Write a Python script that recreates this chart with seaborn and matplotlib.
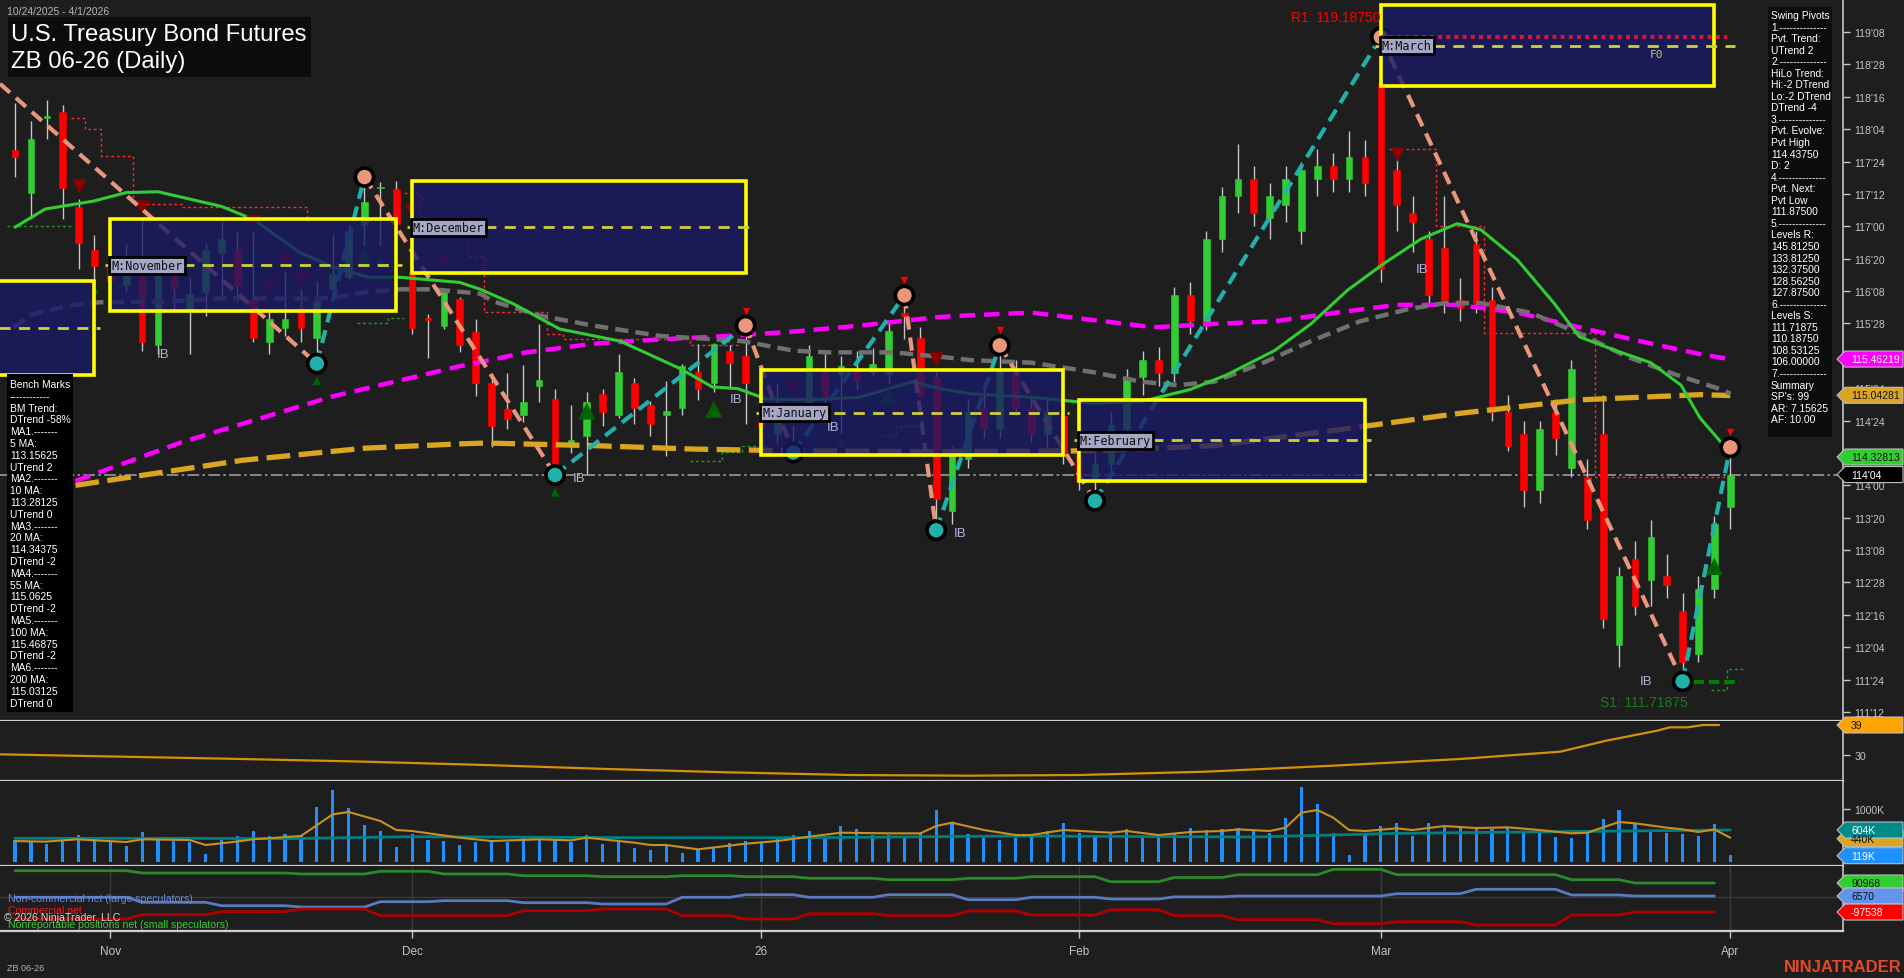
import numpy as np
import pandas as pd
import matplotlib
matplotlib.use("Agg")
import matplotlib.pyplot as plt
from matplotlib.patches import Rectangle, Polygon
from matplotlib.ticker import FixedLocator, FuncFormatter
import seaborn as sns

W, H = 1904, 979
BG = "#1e1e1e"
AXC = "#c4c4c4"

sns.set_theme(style="dark", rc={"axes.facecolor": BG, "figure.facecolor": BG})
plt.rcParams["font.family"] = ["Liberation Sans", "DejaVu Sans"]

# ---------------- data (bar index 0 = 10/24/2025 ... 108 = 4/1/2026) ----------------
opens = [117.88, 117.38, 118.25, 118.32, 117.22, 116.73, 116.54, 116.32, 116.62, 115.62,
         116.54, 116.02, 116.24, 116.69, 116.72, 116.16, 115.66, 115.82, 116.06, 115.71,
         116.27, 116.41, 117.01, 117.44, 117.43, 116.47, 115.93, 115.85, 116.16, 115.78,
         115.19, 114.88, 114.81, 115.15, 115.00, 114.46, 114.57, 115.06, 114.81, 115.19,
         114.93, 114.81, 114.90, 115.31, 115.19, 115.56, 115.50, 114.75, 114.60, 114.48,
         114.90, 115.31, 115.29, 115.34, 115.31, 115.29, 116.00, 115.71, 115.25, 113.70,
         114.30, 114.90, 114.65, 115.30, 114.90, 114.60, 114.80, 114.35, 114.05, 114.25,
         114.65, 115.25, 115.45, 115.30, 116.20, 115.90, 116.85, 117.35, 117.55, 117.10,
         117.25, 116.95, 117.55, 117.70, 117.55, 117.80, 118.65, 117.65, 117.15, 116.85,
         116.75, 116.15, 116.80, 116.15, 114.85, 114.60, 113.95, 114.85, 114.20, 114.10,
         114.60, 112.15, 113.15, 112.90, 112.95, 112.55, 112.05, 112.80, 113.75]
highs = [118.43, 118.22, 118.46, 118.41, 117.32, 116.90, 116.62, 116.80, 117.08, 116.66,
         116.66, 116.41, 116.81, 117.06, 116.93, 116.93, 116.01, 116.47, 116.27, 116.37,
         116.90, 117.01, 117.57, 117.51, 117.52, 116.58, 115.98, 116.27, 116.18, 115.93,
         115.29, 115.30, 115.39, 115.87, 115.12, 114.93, 115.08, 115.12, 115.52, 115.24,
         114.98, 115.21, 115.40, 115.64, 115.65, 115.62, 115.85, 114.81, 115.19, 114.69,
         115.62, 115.52, 115.50, 115.56, 115.59, 115.89, 116.20, 115.83, 115.31, 114.45,
         115.00, 115.20, 115.62, 115.45, 115.05, 115.00, 114.95, 114.55, 114.40, 114.85,
         115.35, 115.55, 115.60, 116.30, 116.35, 116.95, 117.45, 117.95, 117.70, 117.50,
         117.70, 117.75, 117.90, 117.85, 118.10, 118.00, 119.19, 117.85, 117.35, 116.95,
         117.35, 116.40, 116.95, 116.30, 115.05, 114.75, 114.75, 115.00, 115.45, 114.30,
         115.05, 113.05, 113.35, 113.60, 113.20, 112.75, 112.95, 113.65, 114.44]
lows = [117.57, 117.08, 118.01, 117.08, 116.50, 116.24, 116.20, 116.24, 115.56, 115.52,
        116.04, 115.52, 115.96, 116.16, 116.12, 115.66, 115.52, 115.73, 115.66, 115.41,
        116.22, 116.39, 116.78, 116.78, 116.97, 115.75, 115.48, 115.81, 115.54, 115.03,
        114.44, 114.65, 114.73, 114.97, 114.12, 114.38, 114.13, 114.69, 114.78, 114.71,
        114.57, 114.34, 114.81, 114.99, 115.08, 115.12, 114.71, 114.65, 114.48, 114.38,
        114.77, 114.73, 114.61, 115.12, 115.27, 115.19, 115.69, 115.02, 113.48, 113.55,
        114.20, 114.55, 114.55, 114.80, 114.50, 114.40, 114.25, 113.95, 113.82, 114.15,
        114.55, 115.05, 115.15, 115.20, 115.75, 115.80, 116.70, 117.15, 117.00, 116.85,
        117.05, 116.80, 117.35, 117.40, 117.40, 117.35, 116.35, 116.95, 116.70, 116.10,
        116.00, 115.90, 116.00, 114.75, 114.40, 113.75, 113.80, 114.35, 114.10, 113.50,
        112.35, 111.90, 112.50, 112.60, 112.70, 111.73, 111.95, 112.70, 113.50]
closes = [117.80, 118.01, 118.28, 117.44, 116.81, 116.54, 116.37, 116.55, 115.66, 116.43,
          116.27, 116.22, 116.72, 116.85, 116.31, 115.71, 115.93, 115.93, 115.82, 116.13,
          116.45, 116.95, 117.28, 117.46, 117.03, 115.82, 115.92, 116.24, 115.62, 115.19,
          114.69, 114.77, 114.97, 115.22, 114.25, 114.52, 114.97, 114.85, 115.31, 114.90,
          114.71, 114.86, 115.38, 115.12, 115.64, 115.42, 115.19, 114.67, 114.75, 114.42,
          115.50, 115.00, 115.38, 115.21, 115.40, 115.79, 115.96, 115.04, 113.84, 114.35,
          114.85, 114.65, 115.35, 114.90, 114.60, 114.85, 114.35, 114.05, 114.25, 114.70,
          115.25, 115.45, 115.30, 116.20, 115.90, 116.85, 117.35, 117.55, 117.15, 117.35,
          117.55, 117.65, 117.70, 117.55, 117.80, 117.50, 116.50, 117.25, 117.05, 116.20,
          116.15, 116.05, 116.10, 114.85, 114.45, 113.95, 114.65, 114.55, 115.35, 113.60,
          112.45, 112.95, 112.60, 113.40, 112.85, 111.95, 112.80, 113.55, 114.125]
volume_k = [409, 384, 333, 409, 503, 440, 396, 296, 566, 415,
            396, 377, 145, 409, 484, 579, 491, 522, 491, 1032,
            1352, 1013, 692, 579, 277, 522, 409, 390, 314, 377,
            377, 377, 465, 428, 428, 377, 503, 333, 377, 258,
            220, 321, 164, 226, 258, 352, 390, 371, 459, 503,
            579, 472, 673, 616, 503, 503, 484, 547, 975, 742,
            522, 478, 409, 447, 478, 579, 730, 541, 503, 535,
            629, 447, 447, 528, 635, 598, 616, 648, 579, 541,
            824, 1409, 1088, 541, 126, 522, 673, 730, 484, 730,
            692, 660, 641, 629, 648, 579, 560, 465, 447, 598,
            805, 975, 711, 598, 541, 522, 484, 711, 126]

month_idx = [6, 25, 47, 67, 86, 108]
month_lbl = ["Nov", "Dec", "26", "Feb", "Mar", "Apr"]

# moving averages (bar index, price)
ma20_idx = [0, 1.9, 4.9, 7, 9, 13, 15, 17.9, 20, 22.2, 24.2, 28, 29.3, 31.4, 34.3, 38.1, 41.9, 43.9, 45.5, 47.3,
            49.9, 53.2, 56.5, 58.2, 60.2, 64, 67.9, 70.9, 74, 76.3, 79.3, 81.6, 83.9, 86.2, 88.5, 90.8, 92.3,
            94.6, 96.9, 98.5, 100.8, 103, 104.9, 106.1, 107.6, 108]
ma20_val = [116.99, 117.20, 117.29, 117.39, 117.40, 117.23, 117.08, 116.70, 116.53, 116.41, 116.41, 116.35,
            116.27, 116.10, 115.81, 115.67, 115.35, 115.14, 115.12, 115.00, 114.99, 115.02, 115.20, 115.12,
            115.06, 115.02, 114.95, 114.97, 115.11, 115.28, 115.56, 115.87, 116.26, 116.57, 116.85, 117.03,
            116.96, 116.61, 116.11, 115.72, 115.56, 115.42, 115.16, 114.78, 114.46, 114.33]
ma55_idx = [-0.1, 1.1, 3.3, 5.3, 9.6, 13.7, 17.9, 20, 22.2, 24.2, 26.3, 29.3, 30.1, 33.2, 36.4, 40.6, 45.8, 49,
            51.1, 55.3, 58.2, 60.2, 64, 67.9, 70.9, 73.2, 75.5, 78.6, 81.6, 84.7, 87.7, 90, 92.3, 95.4, 98.5,
            101.5, 104.6, 107.6, 108]
ma55_val = [115.83, 115.98, 116.08, 116.12, 116.13, 116.17, 116.16, 116.17, 116.24, 116.27, 116.27, 116.22,
            116.13, 115.96, 115.85, 115.73, 115.67, 115.56, 115.54, 115.54, 115.49, 115.45, 115.42, 115.31,
            115.20, 115.16, 115.20, 115.42, 115.67, 115.90, 116.04, 116.11, 116.11, 116.00, 115.76, 115.49,
            115.28, 115.10, 115.06]
ma100_idx = [3.8, 10.5, 20, 28, 29.1, 32.2, 36.4, 40.6, 44.8, 49, 53.2, 58.2, 60.2, 64, 66.3, 71.7, 75.5, 79.3,
             83.2, 87, 90.8, 94.6, 98.5, 102.3, 106.1, 108]
ma100_val = [114.05, 114.50, 115.03, 115.38, 115.42, 115.54, 115.64, 115.69, 115.73, 115.78, 115.85, 115.95,
             115.97, 116.00, 115.95, 115.83, 115.87, 115.90, 116.00, 116.09, 116.09, 116.00, 115.83, 115.67,
             115.52, 115.46]
ma200_idx = [3.8, 14.3, 22, 28, 29.6, 36.4, 42.7, 49, 58.2, 67.9, 75.5, 83.2, 90.8, 98.5, 106.1, 108]
ma200_val = [114.00, 114.29, 114.43, 114.48, 114.49, 114.46, 114.42, 114.40, 114.39, 114.40, 114.46, 114.64,
             114.83, 114.99, 115.05, 115.04]

# swing pivots
piv_idx = [19, 22, 34, 46, 49, 56, 58, 62, 68, 86, 105, 108]
piv_val = [115.41, 117.57, 114.12, 115.85, 114.38, 116.20, 113.48, 115.62, 113.82, 119.19, 111.73, 114.44]
piv_high = [False, True, False, True, False, True, False, True, False, True, False, True]
swing_start = (-0.95, 118.65)

# monthly boxes
box_name = ["", "M:November", "M:December", "M:January", "M:February", "M:March"]
box_start = [-26, 6, 25, 47, 67, 86]
box_end = [5, 24, 46, 66, 85, 107]
box_top = [116.37, 117.08, 117.52, 115.34, 114.99, 119.56]
box_bot = [115.28, 116.02, 116.46, 114.35, 114.05, 118.625]
box_mid = [115.82, 116.55, 116.99, 114.84, 114.52, 119.09]

# signal markers
dn_idx = [4, 8, 15, 16, 17, 18, 25, 27, 49, 58, 87]
dn_val = [117.47, 117.22, 117.05, 116.33, 116.60, 116.39, 117.18, 116.60, 115.15, 115.46, 117.84]
up_idx = [5, 19, 22, 23, 34, 36, 44, 50, 52, 54, 55, 107]
up_val = [116.27, 115.21, 116.64, 116.60, 113.92, 114.86, 114.88, 114.62, 114.51, 114.85, 115.03, 113.06]
up_big = [False, False, True, False, False, True, True, False, False, False, True, True]
tip_idx = [46, 56, 62, 108]
tip_val = [116.02, 116.38, 115.80, 114.62]
ib_idx = [8.9, 35.1, 45.0, 51.1, 59.1, 88.2, 102.3]
ib_val = [115.52, 114.09, 115.00, 114.68, 113.45, 116.51, 111.73]

# trailing stop steps
rstops = [([3.5, 4.4, 5.4, 7.4, 10.5, 18.4], [118.25, 118.13, 117.81, 117.26, 117.22, 117.10]),
          ([24.5, 25.5, 28.5, 29.5, 33.5, 34.5, 42.5, 45.5], [117.39, 117.08, 116.66, 116.01, 115.75, 115.69, 115.62, 115.62]),
          ([86.5, 89.5, 92.5, 99.5, 108.3], [117.90, 117.00, 115.76, 114.10, 114.10])]
gstops = [([-0.5, 3.5], [117.00, 117.00]),
          ([21.5, 23.5, 24.5], [115.88, 115.94, 115.94]),
          ([42.5, 44.5, 45.8, 47.3], [114.28, 114.39, 114.46, 114.46]),
          ([54.5, 55.5, 57.7], [114.57, 114.69, 114.69]),
          ([106.8, 107.8, 108.8], [111.63, 111.87, 111.87])]

# trend strength panel
adx_idx = [-0.9, 6.7, 14.3, 22, 29.6, 37.3, 44.9, 52.6, 60, 67, 75, 83, 91, 97.3, 100.2, 103.4, 104.2, 105.3, 106.3, 107.3]
adx_val = [30.2, 29.5, 28.8, 28.0, 27.0, 25.8, 24.8, 24.0, 23.8, 24.0, 25.0, 26.8, 28.8, 31.0, 34.3, 37.3, 38.3, 38.3, 39.0, 39.0]

# volume averages (K)
vma_idx = [0, 1.9, 3.9, 7, 8, 11, 12, 13.9, 15, 18, 20, 21, 23, 24, 25, 28, 30, 33, 35, 36, 39, 40, 41, 43, 46,
           48, 50, 52, 55, 57, 58, 59, 61, 63, 64, 66, 69, 70, 72, 74, 76, 77, 79, 80, 81, 82, 83, 84, 85, 87,
           88, 90, 92, 94, 96, 98, 99, 101, 102, 104, 105, 106, 107, 108]
vma_val = [396, 384, 428, 377, 428, 415, 321, 384, 428, 491, 899, 944, 774, 604, 585, 459, 396, 428, 409, 459,
           365, 321, 321, 239, 346, 396, 478, 553, 541, 541, 679, 742, 604, 509, 509, 604, 553, 585, 509, 566,
           585, 616, 585, 648, 931, 981, 837, 604, 585, 635, 604, 679, 641, 654, 604, 541, 553, 755, 730, 648,
           616, 566, 616, 459]
vlong_idx = [0, 11, 17, 25, 39, 50, 63, 78, 87, 97, 108]
vlong_val = [447, 447, 440, 478, 459, 459, 491, 472, 541, 572, 604]

# COT weekly net positions (thousands)
cot_start = [0, 7, 12, 17, 22, 26, 31, 36, 41, 45, 49, 54, 59, 63, 68, 72, 76, 82, 86, 91, 97, 101]
cot_end = 107
cot_small = [170.9, 155.9, 155.9, 149.4, 167.0, 149.4, 138.4, 131.9, 138.4, 131.9, 121.5, 112.4, 121.5, 131.9,
             99.4, 127.0, 144.9, 179.6, 144.9, 144.9, 112.4, 91.0]
cot_large = [-1.9, -34.4, -56.5, -64.9, -30.4, -23.9, -36.9, -45.4, -1.9, 15.0, -1.9, 15.0, -17.5, -1.9, -13.0,
             1.0, 6.6, 6.6, 21.5, 50.1, 13.1, 6.6]
cot_comm = [-142.8, -114.9, -95.4, -77.9, -121.4, -121.4, -88.9, -77.9, -121.4, -142.8, -108.4, -121.4, -90.8,
            -116.8, -82.4, -121.4, -147.3, -173.3, -160.3, -181.8, -116.8, -97.5]

swing_lines = ["Swing Pivots", "1.--------------", "Pvt. Trend:", "UTrend 2", "2.--------------", "HiLo Trend:",
               "Hi:-2 DTrend", "Lo:-2 DTrend", "DTrend -4", "3.--------------", "Pvt. Evolve:", "Pvt High",
               "114.43750", "D: 2", "4.--------------", "Pvt. Next:", "Pvt Low", "111.87500", "5.--------------",
               "Levels R:", "145.81250", "133.81250", "132.37500", "128.56250", "127.87500", "6.--------------",
               "Levels S:", "111.71875", "110.18750", "108.53125", "106.00000", "7.--------------", "Summary",
               "SP's: 99", "AR: 7.15625", "AF: 10.00"]
bench_lines = ["Bench Marks", "------------", "BM Trend:", "DTrend -58%", "MA1.-------", "5 MA:", "113.15625",
               "UTrend 2", "MA2.-------", "10 MA:", "113.28125", "UTrend 0", "MA3.-------", "20 MA:", "114.34375",
               "DTrend -2", "MA4.-------", "55 MA:", "115.0625", "DTrend -2", "MA5.-------", "100 MA:",
               "115.46875", "DTrend -2", "MA6.-------", "200 MA:", "115.03125", "DTrend 0"]

# ---------------- figure ----------------
fig = plt.figure(figsize=(W / 100, H / 100), dpi=100)


def px_axes(left, top, right, bottom, **kw):
    return fig.add_axes([left / W, 1 - bottom / H, (right - left) / W, (bottom - top) / H], **kw)


ax_p = px_axes(0, 0, 1843, 722)
ax_a = px_axes(0, 722, 1843, 782, sharex=ax_p)
ax_v = px_axes(0, 782, 1843, 867, sharex=ax_p)
ax_c = px_axes(0, 867, 1843, 932, sharex=ax_p)

for ax in (ax_p, ax_a, ax_v, ax_c):
    ax.set_facecolor(BG)
    ax.grid(False)
    for s in ("top", "left"):
        ax.spines[s].set_visible(False)
    ax.spines["right"].set_color(AXC)
    ax.spines["right"].set_linewidth(1.2)
    ax.spines["bottom"].set_color("#d0d0d0")
    ax.spines["bottom"].set_linewidth(1.6)
    ax.yaxis.tick_right()
    ax.tick_params(axis="y", colors=AXC, labelsize=7.6, length=5, width=1, direction="out", pad=3, right=True, left=False)
    ax.tick_params(axis="x", bottom=False, labelbottom=False)
    ax.set_xlabel("")
    ax.set_ylabel("")

ax_p.set_xlim(-0.95, 115.1)
ax_p.set_ylim(111.271, 119.632)

# price ticks in 32nds (labels hidden where the value flags sit)
pticks = np.arange(111.375, 119.3, 0.375)
hidden = (115.5, 114.375)


def fmt32(v, _):
    if any(abs(v - hv) < 1e-6 for hv in hidden):
        return ""
    return f"{int(v)}'{int(round((v - int(v)) * 32)):02d}"


ax_p.yaxis.set_major_locator(FixedLocator(pticks))
ax_p.yaxis.set_major_formatter(FuncFormatter(fmt32))

x = np.arange(len(opens))
o, h, l, c = (np.array(a) for a in (opens, highs, lows, closes))

# current price line
ax_p.axhline(closes[-1], color="#9a9a9a", lw=1.2, ls=(0, (7, 2, 1.5, 2)), zorder=2)

# trailing stops
for xs, ys in rstops:
    ax_p.step(xs, ys, where="post", color="#ff2a2a", lw=1, ls=(0, (2, 2)), zorder=2.5)
for xs, ys in gstops:
    ax_p.step(xs, ys, where="post", color="#1e9e1e", lw=1, ls=(0, (2, 2)), zorder=2.5)

# candles
ax_p.vlines(x, l, h, color="#c4c4c4", lw=1, zorder=3)
lo_b = np.minimum(o, c)
hb = np.maximum(np.abs(c - o), 0.015)
up = c >= o
ax_p.bar(x[up], hb[up], bottom=lo_b[up], width=0.42, color="#32cd32", edgecolor="#32cd32", lw=0.4, zorder=3.5)
ax_p.bar(x[~up], hb[~up], bottom=lo_b[~up], width=0.42, color="#ff0000", edgecolor="#ff0000", lw=0.4, zorder=3.5)

# moving averages
sns.lineplot(x=ma200_idx, y=ma200_val, ax=ax_p, color="#daa520", lw=3.8, linestyle=(0, (4.5, 1.6)),
             sort=False, estimator=None, zorder=4)
sns.lineplot(x=ma100_idx, y=ma100_val, ax=ax_p, color="#ff00ff", lw=3.2, linestyle=(0, (3.5, 2)),
             sort=False, estimator=None, zorder=4)
sns.lineplot(x=ma55_idx, y=ma55_val, ax=ax_p, color="#707070", lw=3.2, linestyle=(0, (3, 1.6)),
             sort=False, estimator=None, zorder=4)
sns.lineplot(x=ma20_idx, y=ma20_val, ax=ax_p, color="#32cd32", lw=2.2, sort=False, estimator=None, zorder=4)

# swing lines
sx = [swing_start[0]] + piv_idx
sy = [swing_start[1]] + piv_val
for k in range(len(sx) - 1):
    col = "#20b2aa" if sy[k + 1] > sy[k] else "#e9967a"
    ax_p.plot(sx[k:k + 2], sy[k:k + 2], color=col, lw=3, ls=(0, (3.2, 1.9)), zorder=6)

# S1 / R1 levels
ax_p.plot([104.7, 108.6], [111.72, 111.72], color="#008000", lw=3, ls=(0, (2.5, 1.2)), zorder=6)
ax_p.plot([86, 107.8], [119.1875, 119.1875], color="#dc143c", lw=2.8, ls=(0, (1, 1.1)), zorder=9.5)

# markers
ax_p.scatter(dn_idx, dn_val, marker="v", s=110, color="#8b0000", zorder=5, lw=0)
ax_p.scatter(up_idx, up_val, marker="^", s=[150 if b else 40 for b in up_big], color="#006400", zorder=5, lw=0)
ax_p.scatter(tip_idx, tip_val, marker="v", s=28, color="#ff0000", zorder=5, lw=0)
ax_p.scatter(piv_idx, piv_val, s=170, c=["#e9967a" if hh else "#20b2aa" for hh in piv_high],
             edgecolors="black", linewidths=2.6, zorder=7)
for xi, yi in zip(ib_idx, ib_val):
    ax_p.text(xi, yi, "IB", color="#b0b4d8", fontsize=9.5, ha="left", va="center", zorder=10)

# monthly boxes
for nm, s0, s1, tp, bt, md in zip(box_name, box_start, box_end, box_top, box_bot, box_mid):
    ax_p.add_patch(Rectangle((s0, bt), s1 - s0, tp - bt, fc="#191966", ec="none", alpha=0.8, zorder=8))
    ax_p.add_patch(Rectangle((s0, bt), s1 - s0, tp - bt, fill=False, ec="#ffff00", lw=2.6, zorder=9))
    end = 108.3 if nm == "M:March" else s1 + 0.35
    ax_p.plot([s0 - 0.35, end], [md, md], color="#cfcf3a", lw=2, ls=(0, (4, 3)), zorder=9)
    if nm:
        ax_p.text(s0 + 0.05, md, nm, fontfamily="DejaVu Sans Mono", fontsize=8.5, color="#111111",
                  ha="left", va="center", zorder=12,
                  bbox=dict(boxstyle="square,pad=0.18", fc="#a6a6c6", ec="black", lw=2))

ax_p.text(86.0, 119.42, "R1: 119.18750", color="#ff0000", fontsize=10, ha="right", va="center", zorder=12)
ax_p.text(105.3, 111.49, "S1: 111.71875", color="#1c7a1c", fontsize=10, ha="right", va="center", zorder=12)
ax_p.text(102.9, 119.0, "F0", color="#c8c850", fontsize=8, fontfamily="DejaVu Sans Mono", va="center", zorder=12)

# ---- trend strength panel ----
ax_a.set_ylim(22.2, 40.2)
sns.lineplot(x=adx_idx, y=adx_val, ax=ax_a, color="#d4900a", lw=1.6, sort=False, estimator=None)
ax_a.yaxis.set_major_locator(FixedLocator([30]))
ax_a.yaxis.set_major_formatter(FuncFormatter(lambda v, _: f"{v:.0f}"))

# ---- volume panel ----
ax_v.set_ylim(-75, 1528)
ax_v.bar(x, volume_k, width=0.2, color="#1e90ff", edgecolor="none", lw=0, zorder=3)
sns.lineplot(x=vlong_idx, y=vlong_val, ax=ax_v, color="#008080", lw=2, sort=False, estimator=None, zorder=4)
sns.lineplot(x=vma_idx, y=vma_val, ax=ax_v, color="#c8901e", lw=1.5, sort=False, estimator=None, zorder=5)
ax_v.yaxis.set_major_locator(FixedLocator([1000]))
ax_v.yaxis.set_major_formatter(FuncFormatter(lambda v, _: f"{v:.0f}K"))

# ---- COT panel ----
ax_c.set_ylim(-220.7, 201.4)
ax_c.set_yticks([])
ax_c.axhline(0, color="#3a3a3a", lw=1, zorder=1)
for mi in month_idx:
    ax_c.axvline(mi, color="#3a3a3a", lw=1, zorder=1)
ends = cot_start[1:] + [cot_end]
for vals, col in ((cot_small, "#2a8a2a"), (cot_large, "#5b79bd"), (cot_comm, "#b00000")):
    xs, ys = [], []
    for s0, e0, v in zip(cot_start, ends, vals):
        xs += [s0 + (1 if s0 else 0), e0]
        ys += [v, v]
    sns.lineplot(x=xs, y=ys, ax=ax_c, color=col, lw=2, sort=False, estimator=None, zorder=3)
ax_c.set_xticks(month_idx)
ax_c.set_xticklabels(month_lbl)
ax_c.tick_params(axis="x", bottom=True, labelbottom=True, colors=AXC, length=5, width=1, labelsize=8.5, pad=5)


# ---------------- overlays in pixel space ----------------
def fxy(px, py):
    return (px / W, 1 - py / H)


def ypix(ax, v):
    return H - ax.transData.transform((0, v))[1]


def flag(y, text, fc, tc):
    pts = [fxy(1837, y), fxy(1845, y - 8), fxy(1903, y - 8), fxy(1903, y + 8), fxy(1845, y + 8)]
    fig.add_artist(Polygon(pts, closed=True, fc=fc, ec="#bdbdbd", lw=0.8, transform=fig.transFigure, zorder=5))
    fig.text(*fxy(1851, y), text, color=tc, fontsize=7.5, va="center", ha="left", zorder=6)


flag(ypix(ax_p, 115.46219), "115.46219", "#ff00ff", "white")
flag(ypix(ax_p, 115.04281), "115.04281", "#daa520", "#111111")
flag(ypix(ax_p, 114.32813), "114.32813", "#32cd32", "#111111")
flag(ypix(ax_p, closes[-1]), "114'04", "#000000", "white")
flag(ypix(ax_a, 39), "39", "#ffa500", "#111111")
flag(ypix(ax_v, 440), "440K", "#daa520", "#111111")
flag(ypix(ax_v, 604), "604K", "#008b8b", "white")
flag(ypix(ax_v, 119), "119K", "#1e90ff", "white")
flag(ypix(ax_c, 90.968), "90968", "#32cd32", "#111111")
flag(ypix(ax_c, 6.570), "6570", "#6495ed", "#111111")
flag(ypix(ax_c, -97.538), "-97538", "#ff0000", "white")

# title
fig.text(*fxy(7, 12), "10/24/2025 - 4/1/2026", color="#b4b4b4", fontsize=7.5, va="center")
fig.add_artist(Rectangle(fxy(8, 78), 303 / W, 60 / H, transform=fig.transFigure, fc="#0c0c0c", ec="none", zorder=3))
fig.text(*fxy(11, 35), "U.S. Treasury Bond Futures", color="white", fontsize=17.2, va="center", zorder=4)
fig.text(*fxy(11, 62), "ZB 06-26 (Daily)", color="white", fontsize=17.2, va="center", zorder=4)

# swing pivots box
fig.add_artist(Rectangle(fxy(1768, 438), 64 / W, 430 / H, transform=fig.transFigure, fc="#0c0c0c", ec="none", zorder=3))
for k, t in enumerate(swing_lines):
    fig.text(*fxy(1771, 16 + k * 11.55), t, color="white", fontsize=7.4, va="center", zorder=4)

# bench marks box
fig.add_artist(Rectangle(fxy(7, 713), 66 / W, 338 / H, transform=fig.transFigure, fc="#000000", ec="none", zorder=3))
for k, t in enumerate(bench_lines):
    fig.text(*fxy(10, 385 + k * 11.8), t, color="white", fontsize=7.4, va="center", zorder=4)

# COT legend
fig.text(*fxy(8, 899), "Non-commercial net (large speculators)", color="#6a8ad6", fontsize=7.6, va="center", zorder=4)
fig.text(*fxy(8, 911), "Commercial net", color="#ff1a1a", fontsize=7.6, va="center", zorder=4)
fig.text(*fxy(4, 918), "\u00a9 2026 NinjaTrader, LLC", color="#d6d6d6", fontsize=7.6, va="center", zorder=5)
fig.text(*fxy(8, 925), "Nonreportable positions net (small speculators)", color="#32cd32", fontsize=7.6, va="center", zorder=4)

fig.text(*fxy(7, 969), "ZB 06-26", color="#b4b4b4", fontsize=6.5, va="center")
fig.text(*fxy(1902, 968), "NINJATRADER", color="#e44a2a", fontsize=12, fontweight="bold", ha="right", va="center")

fig.savefig("out.png", dpi=100, facecolor=BG)
